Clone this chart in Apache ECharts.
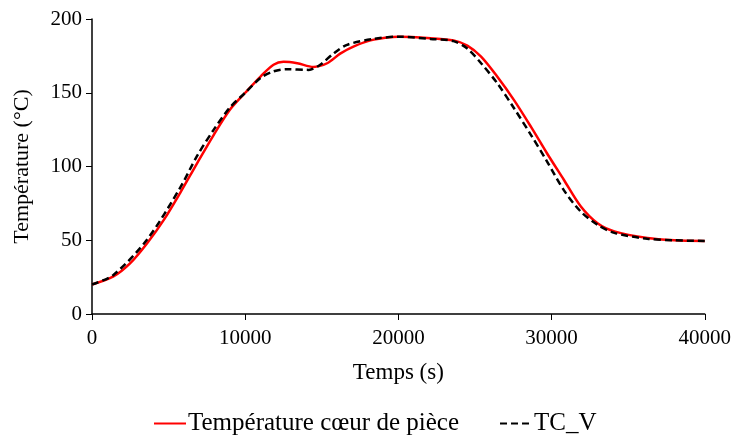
<!DOCTYPE html>
<html><head><meta charset="utf-8">
<script src="https://cdn.jsdelivr.net/npm/echarts@6/dist/echarts.min.js"></script>
<style>html,body{margin:0;padding:0;background:#fff}#c{width:734px;height:441px}</style>
</head><body><div id="c"></div>
<script>
const xTicks = [0, 10000, 20000, 30000, 40000];
const yTicks = [0, 50, 100, 150, 200];
const redName = 'Température cœur de pièce';
const blackName = 'TC_V';
const redX = [0, 1400, 2500, 3600, 4700, 5750, 6850, 7950, 9000, 10000, 11000, 11850, 12500, 13400, 14450, 15350, 16200, 17100, 18400, 20000, 22100, 23600, 24500, 25400, 26450, 27550, 28650, 29700, 30800, 31900, 33000, 34100, 36250, 38000, 40000];
const redY = [20, 25.5, 34.5, 48, 64, 82, 102, 121.5, 138.5, 150, 161, 169, 171, 170, 167.5, 170, 176.5, 181.5, 186, 188, 187, 185.5, 182, 174.5, 161, 145, 127, 109, 91, 73, 61.5, 56, 51.5, 50, 49.5];
const blackX = [0, 1400, 3600, 5750, 6850, 7950, 9000, 10000, 11000, 11850, 12700, 14150, 14900, 15750, 16650, 18400, 20000, 22100, 23600, 24500, 25400, 26450, 27550, 28650, 29700, 30800, 31900, 33000, 34100, 36250, 38000, 40000];
const blackY = [20, 26.5, 50.5, 85.5, 107, 125, 140, 150, 160, 164.5, 166, 165.5, 169, 176.5, 182.5, 186.5, 188, 186.5, 185, 180, 170, 156.5, 139.5, 121.5, 103.5, 84, 69.5, 60.5, 55, 51, 50, 49.5];

const zip = (a, b) => a.map((v, i) => [v, b[i]]);
const font = '"Liberation Serif", "Times New Roman", serif';
const chart = echarts.init(document.getElementById('c'));
chart.setOption({
  animation: false,
  grid: {left: 92, right: 29, top: 19, bottom: 127, containLabel: false},
  legend: {
    bottom: 0, left: 148, itemGap: 40, itemWidth: 32, itemHeight: 14,
    itemStyle: {opacity: 0},
    textStyle: {fontFamily: font, fontSize: 25, color: '#000', padding: [0, 0, 0, -3]},
    data: [redName, blackName]
  },
  xAxis: {
    type: 'value', min: xTicks[0], max: xTicks[xTicks.length - 1], interval: 10000,
    name: 'Temps (s)', nameLocation: 'middle', nameGap: 47,
    nameTextStyle: {fontFamily: font, fontSize: 23, color: '#000'},
    axisLine: {lineStyle: {color: '#000', width: 1.5}},
    axisTick: {show: true, length: 6, lineStyle: {color: '#000'}},
    axisLabel: {fontFamily: font, fontSize: 21, color: '#000', margin: 14, formatter: v => String(v)},
    splitLine: {show: false}
  },
  yAxis: {
    type: 'value', min: yTicks[0], max: yTicks[yTicks.length - 1], interval: 50,
    name: 'Température (°C)', nameLocation: 'middle', nameGap: 59,
    nameTextStyle: {fontFamily: font, fontSize: 22, color: '#000'},
    axisLine: {show: true, lineStyle: {color: '#000', width: 1.5}},
    axisTick: {show: true, length: 6, lineStyle: {color: '#000'}},
    axisLabel: {fontFamily: font, fontSize: 21, color: '#000', margin: 10},
    splitLine: {show: false}
  },
  series: [
    {name: redName, type: 'line', data: zip(redX, redY), smooth: 0.3, showSymbol: false, symbol: 'none',
     lineStyle: {color: '#ff0000', width: 2.5}, itemStyle: {color: '#ff0000'}, z: 2},
    {name: blackName, type: 'line', data: zip(blackX, blackY), smooth: 0.3, showSymbol: false, symbol: 'none',
     lineStyle: {color: '#000', width: 2.5, type: [7, 4]}, itemStyle: {color: '#000'}, z: 3}
  ]
});
</script></body></html>
